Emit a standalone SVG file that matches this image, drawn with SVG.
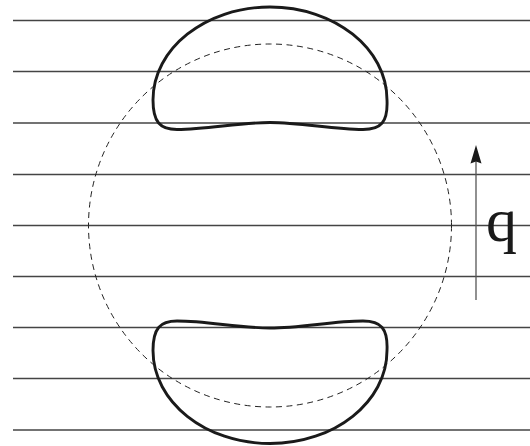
<svg xmlns="http://www.w3.org/2000/svg" width="530" height="446" viewBox="0 0 530 446">
  <style>
    .ln { stroke: #444; stroke-width: 1.3; fill: none; }
    .blob { stroke: #1a1a1a; stroke-width: 2.9; fill: none; stroke-linejoin: round; }
    .circ { stroke: #222; stroke-width: 1; fill: none; stroke-dasharray: 6 4.5; }
    .lbl { font-family: "Liberation Serif", "Times New Roman", serif; font-size: 62px; fill: #1a1a1a; }
  </style>
  <defs>
    <path id="blobShape" d="M 270 122.5 C 302 122.5, 332 129.5, 363 129.5 C 381 129.5, 388 122, 387 100 C 387 48.6, 334.6 7, 270 7 C 205.4 7, 153 48.6, 153 100 C 153 122, 160 129.5, 177 129.5 C 208 129.5, 238 122.5, 270 122.5 Z"/>
  </defs>
  <g id="lines">
    <line class="ln" x1="13" y1="20.5" x2="530" y2="20.5"/>
    <line class="ln" x1="13" y1="71.5" x2="530" y2="71.5"/>
    <line class="ln" x1="13" y1="123" x2="530" y2="123"/>
    <line class="ln" x1="13" y1="174.5" x2="530" y2="174.5"/>
    <line class="ln" x1="13" y1="225.5" x2="530" y2="225.5"/>
    <line class="ln" x1="13" y1="276.5" x2="530" y2="276.5"/>
    <line class="ln" x1="13" y1="327.5" x2="530" y2="327.5"/>
    <line class="ln" x1="13" y1="378.5" x2="530" y2="378.5"/>
    <line class="ln" x1="13" y1="430" x2="530" y2="430"/>
  </g>
  <g id="circle">
    <circle class="circ" cx="270" cy="225.5" r="181.5"/>
  </g>
  <g id="upper-blob">
    <use href="#blobShape" class="blob"/>
  </g>
  <g id="lower-blob">
    <use href="#blobShape" class="blob" transform="matrix(1 0 0 -1 0 450.5)"/>
  </g>
  <g id="arrow">
    <line x1="476" y1="300" x2="476" y2="160" stroke="#555" stroke-width="1.3"/>
    <polygon points="476,145 481.5,163.5 476,161.5 470.5,163.5" fill="#1a1a1a"/>
  </g>
  <g id="label">
    <text class="lbl" x="486" y="240.5">q</text>
  </g>
</svg>
